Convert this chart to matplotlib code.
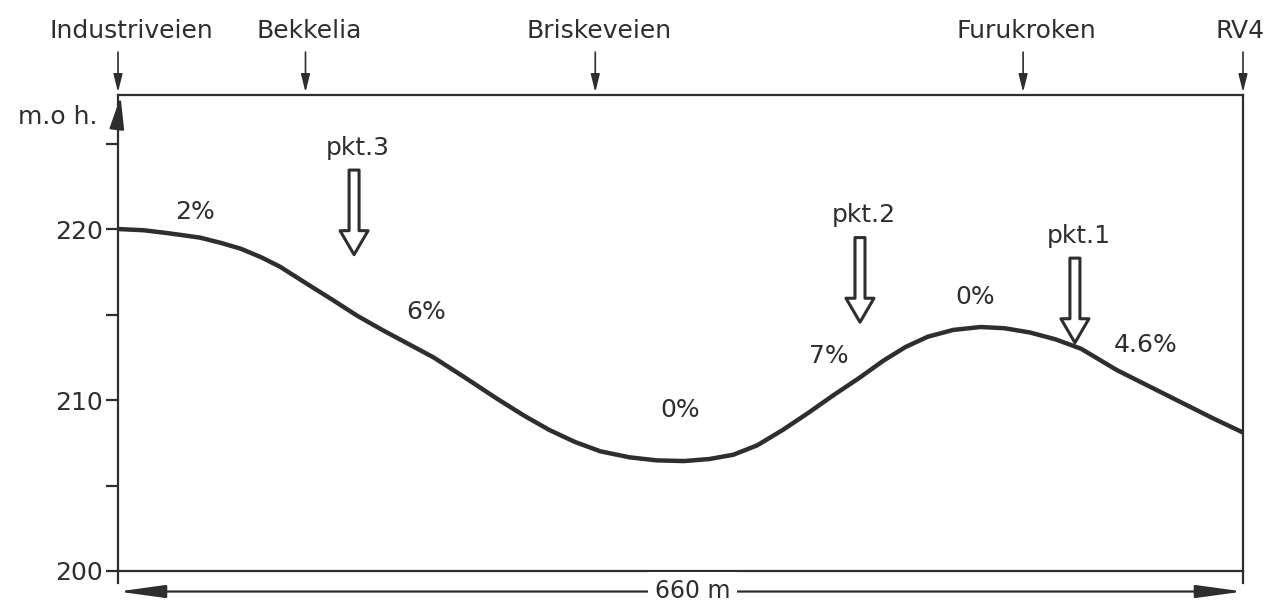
import matplotlib.pyplot as plt
from matplotlib.patches import FancyArrowPatch

# elevation profile (distance in m, height in m.o.h.)
dist = [0, 15, 30, 48, 60, 72, 84, 95, 110, 126, 140, 155, 170, 185, 203, 222,
        238, 253, 268, 283, 300, 316, 332, 347, 361, 375, 390, 405, 420, 435,
        449, 462, 475, 490, 506, 520, 535, 550, 565, 586, 605, 625, 643, 660]
height = [220.0, 219.93, 219.75, 219.5, 219.2, 218.85, 218.35, 217.8, 216.85, 215.85,
          214.95, 214.1, 213.3, 212.5, 211.35, 210.1, 209.1, 208.25, 207.55, 207.0,
          206.65, 206.47, 206.43, 206.55, 206.8, 207.35, 208.25, 209.25, 210.3, 211.3,
          212.3, 213.1, 213.7, 214.1, 214.27, 214.2, 213.95, 213.55, 213.0, 211.75,
          210.8, 209.8, 208.9, 208.1]

places = ["Industriveien", "Bekkelia", "Briskeveien", "Furukroken", "RV4"]
place_pos = [0, 110, 280, 531, 660]

grades = ["2%", "6%", "0%", "7%", "0%", "4.6%"]
grade_x = [45, 181, 330, 417, 503, 603]
grade_y = [221.0, 215.15, 209.4, 212.6, 216.0, 213.2]

points = ["pkt.3", "pkt.2", "pkt.1"]
point_x = [138.5, 435.3, 561.4]
point_top = [223.45, 219.5, 218.3]
point_tip = [218.5, 214.55, 213.35]

total_len = 660
y_top = 227.84
ink = "#2e2e2e"

plt.rcParams["font.family"] = ["DejaVu Sans"]
plt.rcParams["font.size"] = 18

fig = plt.figure(figsize=(12.73, 6.02), dpi=100)
ax = fig.add_axes([118 / 1273, 31 / 602, 1125 / 1273, 476 / 602])

ax.plot(dist, height, color=ink, lw=3.2, solid_capstyle="round", solid_joinstyle="round")

ax.set_xlim(0, total_len)
ax.set_ylim(200, y_top)
for s in ax.spines.values():
    s.set_color(ink)
    s.set_linewidth(1.6)

ax.set_xticks([])
ax.set_yticks([200, 210, 220])
ax.set_yticks([205, 215, 225], minor=True)
ax.tick_params(axis="y", which="both", direction="out", length=9, width=1.6,
               color=ink, labelcolor=ink, pad=2)
ax.tick_params(axis="y", labelsize=18)

# spines run a bit below the base line
ax.plot([0, 0], [199.3, 200], color=ink, lw=1.6, clip_on=False)
ax.plot([total_len, total_len], [199.3, 200], color=ink, lw=1.6, clip_on=False)

# arrowhead on the height axis
ax.annotate("", xy=(1.5, y_top - 0.1), xytext=(0, y_top - 1.4),
            arrowprops=dict(arrowstyle="-|>,head_length=1.1,head_width=0.25",
                            color=ink, lw=1.6, shrinkA=0, shrinkB=0),
            annotation_clip=False)
ax.annotate("m.o h.", xy=(-0.054, 226.55), xycoords=("axes fraction", "data"),
            ha="center", va="center", color=ink, fontsize=18, annotation_clip=False)

# place names with small arrows above the frame
for name, x in zip(places, place_pos):
    tx = x + 8 if x == 0 else (x - 2 if x == total_len else x + 2)
    ax.text(tx, 231.6, name, ha="center", va="center", color=ink, fontsize=18, clip_on=False)
    ax.annotate("", xy=(x, 228.0), xytext=(x, 230.35),
                arrowprops=dict(arrowstyle="-|>,head_length=0.6,head_width=0.15",
                                color=ink, lw=1.2, shrinkA=0, shrinkB=0),
                annotation_clip=False)

# gradients
for g, x, y in zip(grades, grade_x, grade_y):
    ax.text(x, y, g, ha="center", va="center", color=ink, fontsize=18)

# measuring points with hollow arrows
for p, x, y0, y1 in zip(points, point_x, point_top, point_tip):
    arr = FancyArrowPatch((x, y0), (x, y1),
                          arrowstyle="simple,head_length=2.4,head_width=2.8,tail_width=1.0",
                          mutation_scale=7.2, fc="white", ec=ink, lw=2.2,
                          shrinkA=0, shrinkB=0)
    ax.add_patch(arr)
    ax.text(x + 2, y0 + 1.3, p, ha="center", va="center", color=ink, fontsize=18)

# total length dimension line
ax.annotate("", xy=(0, 198.8), xytext=(total_len, 198.8),
            arrowprops=dict(arrowstyle="<|-|>,head_length=1.6,head_width=0.22",
                            color=ink, lw=1.6, shrinkA=0, shrinkB=0),
            annotation_clip=False)
ax.text(337, 198.85, "660 m", ha="center", va="center", color=ink, fontsize=17,
        clip_on=False, bbox=dict(fc="white", ec="none", pad=5))

fig.savefig("out.png", dpi=100)
